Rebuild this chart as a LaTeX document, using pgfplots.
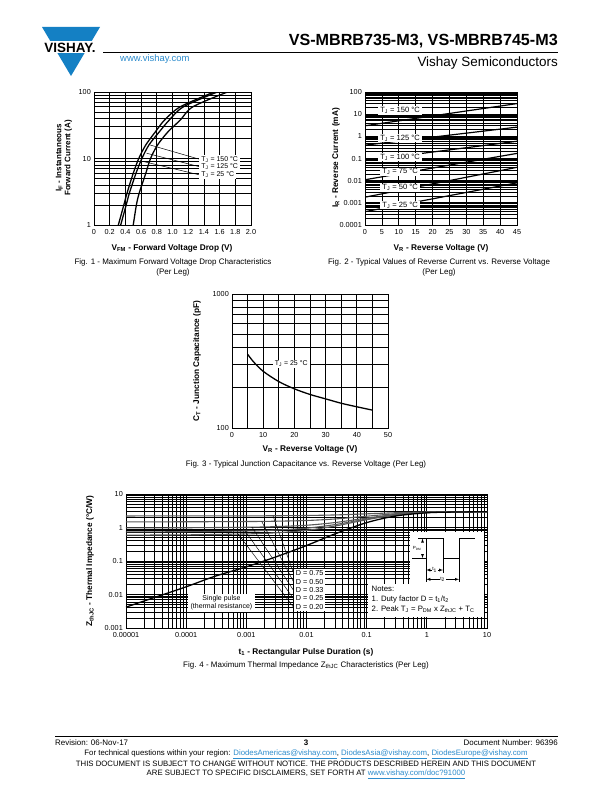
\documentclass[border=0pt]{standalone}
\usepackage{pgfplots}
\pgfplotsset{compat=1.18}
\usepackage{fontspec}
\setmainfont{Liberation Sans}
\definecolor{vblue}{RGB}{20,128,196}
\definecolor{lblue}{RGB}{45,140,205}
\newcommand{\fs}[1]{\fontsize{#1}{#1}\selectfont}

\pgfplotsset{
  sheet/.style={
    scale only axis, anchor=south west,
    axis line style={line width=1pt},
    grid=both,
    major grid style={black,line width=0.75pt},
    minor grid style={black,line width=0.75pt},
    major tick length=0pt, minor tick length=0pt,
    ticklabel style={font=\fs{7.3}, inner sep=1pt},
    /pgf/number format/assume math mode=true,
    xticklabel style={text height=5.3pt, text depth=0pt, yshift=-3pt},
    yticklabel style={xshift=-2pt},
  },
  crv/.style={black,line width=1.3pt,smooth,no marks},
}
\tikzset{lbl/.style={fill=white,inner xsep=2pt,inner ysep=1pt,font=\fs{7}}}

\begin{document}
\begin{tikzpicture}
\begin{scope}[x=1bp,y=-1bp]
\fill[white] (0,0) rectangle (612,792);
\end{scope}

% ---------- Fig. 1 ----------
\begin{axis}[sheet, at={(94bp,-225bp)}, width=157bp, height=133bp,
  xmin=0, xmax=2, ymode=log, ymin=1, ymax=100,
  xtick={0,0.2,0.4,0.6,0.8,1,1.2,1.4,1.6,1.8,2},
  xticklabels={0,0.2,0.4,0.6,0.8,1.0,1.2,1.4,1.6,1.8,2.0},
  minor x tick num=0,
  ytick={1,10,100}, yticklabels={1,10,100},
  minor ytick={2,3,4,5,6,7,8,9,20,30,40,50,60,70,80,90},
]
% TJ = 150 C
\addplot[crv] coordinates {(0.31,1) (0.38,2) (0.42,3) (0.50,6) (0.57,10) (0.66,16) (0.78,25) (0.90,38) (1.10,60) (1.53,100)};
% TJ = 125 C
\addplot[crv] coordinates {(0.34,1) (0.41,2) (0.45,3) (0.535,6) (0.61,10) (0.70,16) (0.83,25) (0.96,38) (1.14,60) (1.57,100)};
% TJ = 25 C
\addplot[crv] coordinates {(0.50,1) (0.54,2) (0.575,3) (0.66,6) (0.72,10) (0.81,16) (0.94,25) (1.10,38) (1.26,60) (1.70,100)};
\draw[line width=0.5pt] (axis cs:0.713,16) -- (axis cs:1.35,9.7);
\draw[line width=0.5pt] (axis cs:0.67,12) -- (axis cs:1.35,7.5);
\draw[line width=0.5pt] (axis cs:0.63,9) -- (axis cs:1.35,5.65);
\node[lbl,anchor=west] at (axis cs:1.34,9.7) {T\textsubscript{J} = 150 °C};
\node[lbl,anchor=west] at (axis cs:1.34,7.5) {T\textsubscript{J} = 125 °C};
\node[lbl,anchor=west] at (axis cs:1.34,5.65) {T\textsubscript{J} = 25 °C};
\end{axis}

% ---------- Fig. 2 ----------
\begin{axis}[sheet, at={(365bp,-225bp)}, width=152bp, height=133bp,
  xmin=0, xmax=45, ymode=log, ymin=0.0001, ymax=100,
  xtick={0,5,10,15,20,25,30,35,40,45}, minor x tick num=0,
  ytick={0.0001,0.001,0.01,0.1,1,10,100},
  yticklabels={0.0001,0.001,0.01,0.1,1,10,100},
  minor ytick={2e-4,3e-4,4e-4,5e-4,6e-4,7e-4,8e-4,9e-4,
    2e-3,3e-3,4e-3,5e-3,6e-3,7e-3,8e-3,9e-3,
    0.02,0.03,0.04,0.05,0.06,0.07,0.08,0.09,
    0.2,0.3,0.4,0.5,0.6,0.7,0.8,0.9,
    2,3,4,5,6,7,8,9,20,30,40,50,60,70,80,90},
]
\addplot[black,line width=1.2pt] coordinates {(0,3) (45,30)};
\addplot[black,line width=1.2pt] coordinates {(0,0.4) (45,2.6)};
\addplot[black,line width=1.2pt] coordinates {(0,0.08) (45,0.6)};
\addplot[black,line width=1.2pt] coordinates {(0,0.011) (45,0.17)};
\addplot[black,line width=1.2pt] coordinates {(0,0.0018) (45,0.04)};
\addplot[black,line width=1.2pt] coordinates {(0,0.0004) (45,0.008)};
\tikzset{lbl/.append style={font=\fs{7.6},inner xsep=2.5pt}}
\node[lbl] at (axis cs:10.4,14.5) {T\textsubscript{J} = 150 °C};
\node[lbl] at (axis cs:10.4,0.85) {T\textsubscript{J} = 125 °C};
\node[lbl] at (axis cs:10.4,0.115) {T\textsubscript{J} = 100 °C};
\node[lbl] at (axis cs:10.4,0.025) {T\textsubscript{J} = 75 °C};
\node[lbl] at (axis cs:10.4,0.0048) {T\textsubscript{J} = 50 °C};
\node[lbl] at (axis cs:10.4,0.00079) {T\textsubscript{J} = 25 °C};
\end{axis}

% ---------- Fig. 3 ----------
\begin{axis}[sheet, at={(232bp,-428bp)}, width=156bp, height=134bp,
  xmin=0, xmax=50, ymode=log, ymin=100, ymax=1000,
  xtick={0,10,20,30,40,50}, minor x tick num=1,
  ytick={100,1000}, yticklabels={100,1000},
  minor ytick={200,300,400,500,600,700,800,900},
]
\addplot[crv] coordinates {(5,355) (7,310) (10,265) (15,222) (20,196) (25,178) (30,165) (35,153) (40,144) (45,136)};
\node[lbl] at (axis cs:19,300) {T\textsubscript{J} = 25 °C};
\end{axis}

% ---------- Fig. 4 ----------
\begin{axis}[sheet, at={(126bp,-628bp)}, width=361bp, height=134bp,
  xmode=log, ymode=log, xmin=1e-5, xmax=10, ymin=0.001, ymax=10,
  xtick={1e-5,1e-4,1e-3,0.01,0.1,1,10},
  xticklabels={0.00001,0.0001,0.001,0.01,0.1,1,10},
  minor xtick={2e-5,3e-5,4e-5,5e-5,6e-5,7e-5,8e-5,9e-5,
    2e-4,3e-4,4e-4,5e-4,6e-4,7e-4,8e-4,9e-4,
    2e-3,3e-3,4e-3,5e-3,6e-3,7e-3,8e-3,9e-3,
    0.02,0.03,0.04,0.05,0.06,0.07,0.08,0.09,
    0.2,0.3,0.4,0.5,0.6,0.7,0.8,0.9,2,3,4,5,6,7,8,9},
  ytick={0.001,0.01,0.1,1,10}, yticklabels={0.001,0.01,0.1,1,10},
  minor ytick={2e-3,3e-3,4e-3,5e-3,6e-3,7e-3,8e-3,9e-3,
    0.02,0.03,0.04,0.05,0.06,0.07,0.08,0.09,
    0.2,0.3,0.4,0.5,0.6,0.7,0.8,0.9,2,3,4,5,6,7,8,9},
]
% D = 0.75, 0.50, 0.33, 0.25, 0.20
\addplot[black!65,line width=1.1pt,smooth] coordinates {(1e-5,2.214) (1e-4,2.217) (1e-3,2.229) (3e-3,2.245) (0.01,2.285) (0.03,2.375) (0.1,2.56) (0.3,2.76) (1,2.90) (3,2.94) (10,2.95)};
\addplot[black!65,line width=1.1pt,smooth] coordinates {(1e-5,1.477) (1e-4,1.484) (1e-3,1.509) (3e-3,1.54) (0.01,1.62) (0.03,1.80) (0.1,2.175) (0.3,2.575) (1,2.85) (3,2.925) (10,2.95)};
\addplot[black!65,line width=1.1pt,smooth] coordinates {(1e-5,0.976) (1e-4,0.985) (1e-3,1.018) (3e-3,1.061) (0.01,1.168) (0.03,1.409) (0.1,1.912) (0.3,2.447) (1,2.816) (3,2.917) (10,2.95)};
\addplot[black!65,line width=1.1pt,smooth] coordinates {(1e-5,0.741) (1e-4,0.750) (1e-3,0.788) (3e-3,0.835) (0.01,0.955) (0.03,1.225) (0.1,1.79) (0.3,2.39) (1,2.80) (3,2.91) (10,2.95)};
\addplot[black!65,line width=1.1pt,smooth] coordinates {(1e-5,0.593) (1e-4,0.604) (1e-3,0.644) (3e-3,0.694) (0.01,0.822) (0.03,1.11) (0.1,1.71) (0.3,2.35) (1,2.79) (3,2.91) (10,2.95)};
% single pulse
\addplot[black,line width=1.3pt,smooth] coordinates {(1e-5,0.0042) (3e-5,0.0082) (1e-4,0.017) (3e-4,0.035) (1e-3,0.067) (3e-3,0.13) (0.01,0.29) (0.03,0.65) (0.1,1.4) (0.3,2.2) (1,2.75) (3,2.9) (10,2.95)};
\draw[line width=0.45pt] (axis cs:0.00277,2.24) -- (axis cs:0.0062,0.040);
\draw[line width=0.45pt] (axis cs:0.0018,1.52) -- (axis cs:0.0062,0.0225);
\draw[line width=0.45pt] (axis cs:0.00124,1.03) -- (axis cs:0.0062,0.0127);
\draw[line width=0.45pt] (axis cs:0.00095,0.79) -- (axis cs:0.0062,0.0072);
\draw[line width=0.45pt] (axis cs:0.00073,0.64) -- (axis cs:0.0062,0.0040);
\node[fill=white,inner xsep=2pt,inner ysep=1.5pt,anchor=north west,align=left,
  font=\fontsize{7.3}{8.4}\selectfont] at (axis cs:0.0061,0.058)
  {D = 0.75\\D = 0.50\\D = 0.33\\D = 0.25\\D = 0.20};
\node[fill=white,inner xsep=3pt,inner ysep=1.5pt,align=center,
  font=\fontsize{7}{8.5}\selectfont] at (axis cs:3.86e-4,0.0056)
  {Single pulse\\(thermal resistance)};
\end{axis}

\begin{scope}[x=1bp,y=-1bp]
% header
\fill[vblue] (42,27) -- (100,27) -- (71,76) -- cycle;
\fill[white] (36,41) rectangle (106,53.5);
\node[font=\bfseries\fs{13.5}, inner sep=0pt] at (70,47.5) {VISHAY.};
\node[anchor=base east, font=\bfseries\fs{16.2}, inner sep=0pt] at (558,45.5) {VS-MBRB735-M3, VS-MBRB745-M3};
\draw[line width=0.8pt] (103,52) -- (558,52);
\node[anchor=base west, font=\fs{9.5}, text=lblue, inner sep=0pt] at (120,61.5) {www.vishay.com};
\node[anchor=base east, font=\fs{13.5}, inner sep=0pt] at (558,67) {Vishay Semiconductors};

% axis labels
\node[rotate=90, align=center, font=\bfseries\fontsize{8}{9}\selectfont] at (64,158)
  {I\textsubscript{F} - Instantaneous\\Forward Current (A)};
\node[font=\bfseries\fs{8.3}] at (172,248) {V\textsubscript{FM} - Forward Voltage Drop (V)};
\node[rotate=90, font=\bfseries\fs{8.3}] at (336,158) {I\textsubscript{R} - Reverse Current (mA)};
\node[font=\bfseries\fs{8.3}] at (441,248) {V\textsubscript{R} - Reverse Voltage (V)};
\node[rotate=90, font=\bfseries\fs{8.3}] at (197,361) {C\textsubscript{T} - Junction Capacitance (pF)};
\node[font=\bfseries\fs{8.3}] at (310,449) {V\textsubscript{R} - Reverse Voltage (V)};
\node[rotate=90, font=\bfseries\fs{8.3}] at (90,561) {Z\textsubscript{thJC} - Thermal Impedance (°C/W)};
\node[font=\bfseries\fs{8.3}] at (306,652) {t\textsubscript{1} - Rectangular Pulse Duration (s)};

% captions
\node[align=center, font=\fontsize{8}{9.3}\selectfont] at (173,267.5)
  {Fig. 1 - Maximum Forward Voltage Drop Characteristics\\(Per Leg)};
\node[align=center, font=\fontsize{8}{9.3}\selectfont] at (439,267.5)
  {Fig. 2 - Typical Values of Reverse Current vs. Reverse Voltage\\(Per Leg)};
\node[font=\fs{8}] at (306,464) {Fig. 3 - Typical Junction Capacitance vs. Reverse Voltage (Per Leg)};
\node[font=\fs{8}] at (306,665) {Fig. 4 - Maximum Thermal Impedance Z\textsubscript{thJC} Characteristics (Per Leg)};

% notes box in fig. 4
\fill[white] (410,532) rectangle (484,586);
\fill[white] (368,584) rectangle (484,617);
\draw[line width=0.6pt] (412,558.3) -- (426,558.3) -- (426,538.3) -- (443.3,538.3) -- (443.3,558.3)
  -- (459.3,558.3) -- (459.3,538.3) -- (475,538.3);
\draw[line width=0.4pt] (418,538.3) -- (426,538.3);
\draw[line width=0.4pt,-{latex}] (422.5,541) -- (422.5,538.6);
\draw[line width=0.4pt,-{latex}] (422.5,555.5) -- (422.5,558);
\draw[line width=0.4pt] (426,558.3) -- (426,582);
\draw[line width=0.4pt] (443.3,558.3) -- (443.3,572.5);
\draw[line width=0.4pt] (459.3,558.3) -- (459.3,582);
\node[font=\fs{4.5}, inner sep=0.5pt, anchor=east] at (422,548.5) {P\textsubscript{DM}};
\draw[line width=0.4pt,{latex}-{latex}] (426.3,570) -- (443,570);
\node[font=\fs{5}, fill=white, inner sep=0.6pt] at (434.6,570) {t\textsubscript{1}};
\draw[line width=0.4pt,{latex}-{latex}] (426.3,579.3) -- (459,579.3);
\node[font=\fs{5}, fill=white, inner sep=0.6pt] at (442.6,579.3) {t\textsubscript{2}};
\node[anchor=base west, font=\fs{7.8}, inner sep=0pt] at (371.5,591.5) {Notes:};
\node[anchor=base west, font=\fs{7.8}, inner sep=0pt] at (371.5,601.5) {1. Duty factor D = t\textsubscript{1}/t\textsubscript{2}};
\node[anchor=base west, font=\fs{7.8}, inner sep=0pt] at (371.5,611) {2. Peak T\textsubscript{J} = P\textsubscript{DM} x Z\textsubscript{thJC} + T\textsubscript{C}};

% footer
\draw[line width=0.4pt] (55,736.5) -- (558,736.5);
\node[anchor=base west, font=\fs{8}, inner sep=0pt] at (55,745) {Revision: 06-Nov-17};
\node[anchor=base, font=\bfseries\fs{8}, inner sep=0pt] at (306,745) {3};
\node[anchor=base east, font=\fs{8}, inner sep=0pt] at (558,745) {Document Number: 96396};
\node[anchor=base, font=\fs{7.85}, inner sep=0pt] at (306,755.5) {For technical questions within your region:
  \textcolor{lblue}{\underline{DiodesAmericas@vishay.com}}, \textcolor{lblue}{\underline{DiodesAsia@vishay.com}},
  \textcolor{lblue}{\underline{DiodesEurope@vishay.com}}};
\node[anchor=base, font=\fs{7.8}, inner sep=0pt] at (306,766) {THIS DOCUMENT IS SUBJECT TO CHANGE WITHOUT NOTICE. THE PRODUCTS DESCRIBED HEREIN AND THIS DOCUMENT};
\node[anchor=base, font=\fs{7.8}, inner sep=0pt] at (306,775) {ARE SUBJECT TO SPECIFIC DISCLAIMERS, SET FORTH AT \textcolor{lblue}{\underline{www.vishay.com/doc?91000}}};
\end{scope}
\end{tikzpicture}
\end{document}
